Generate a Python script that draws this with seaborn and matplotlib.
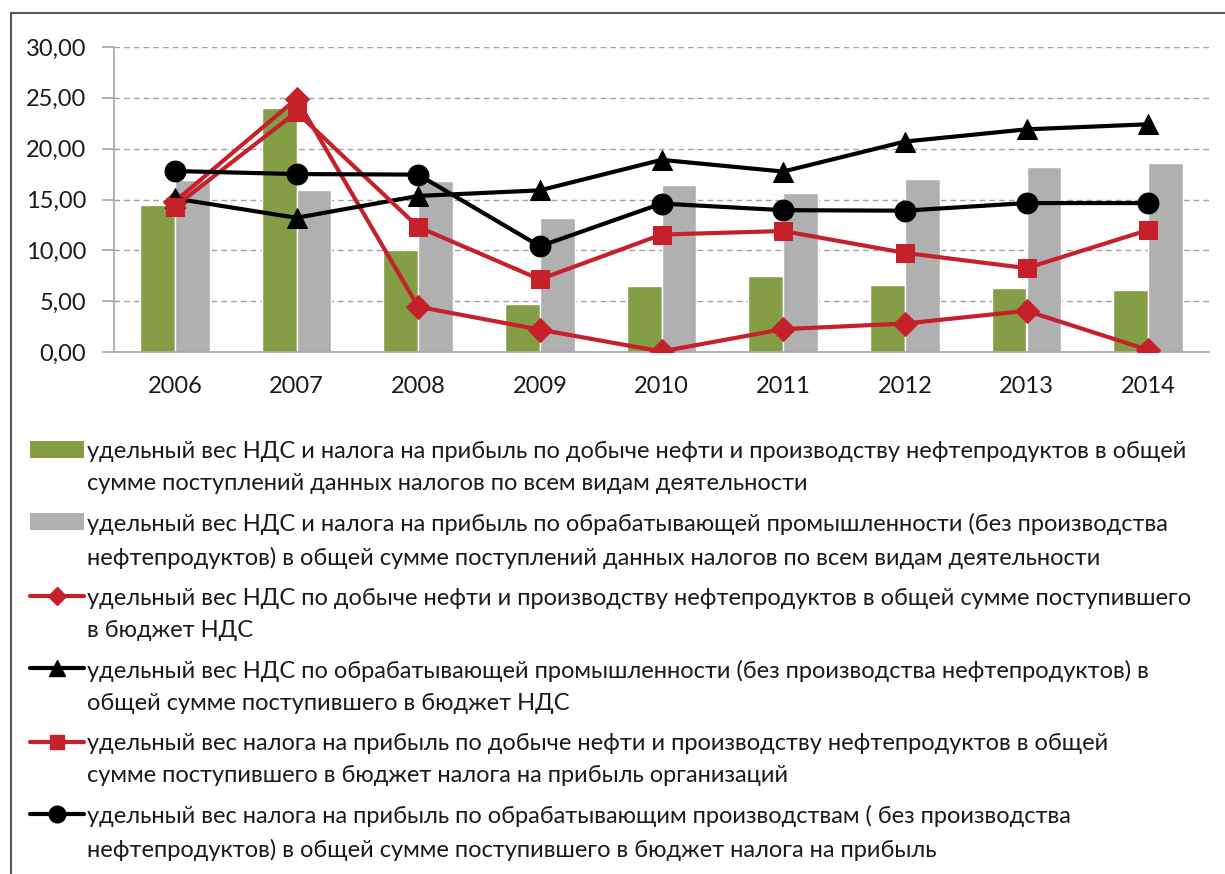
import matplotlib
matplotlib.use("Agg")
import matplotlib.pyplot as plt
import seaborn as sns
import pandas as pd
import numpy as np
from matplotlib.patches import Rectangle, Patch
from matplotlib.lines import Line2D

years = ['2006', '2007', '2008', '2009', '2010', '2011', '2012', '2013', '2014']
oil_share = [14.45, 24.0, 10.0, 4.7, 6.5, 7.5, 6.6, 6.25, 6.1]
manuf_share = [16.9, 15.95, 16.85, 13.15, 16.45, 15.65, 17.05, 18.2, 18.55]
vat_oil = [14.8, 24.9, 4.45, 2.2, 0.05, 2.25, 2.8, 4.05, 0.2]
vat_manuf = [15.1, 13.2, 15.35, 15.9, 18.9, 17.75, 20.7, 21.9, 22.4]
profit_oil = [14.3, 23.6, 12.3, 7.15, 11.55, 11.9, 9.75, 8.25, 12.0]
profit_manuf = [17.8, 17.5, 17.45, 10.4, 14.6, 13.95, 13.9, 14.65, 14.65]
y_ticks = [0, 5, 10, 15, 20, 25, 30]
y_labels = ['0,00', '5,00', '10,00', '15,00', '20,00', '25,00', '30,00']

labels = [
    'удельный вес НДС и налога на прибыль по добыче нефти и производству нефтепродуктов в общей\n'
    'сумме поступлений данных налогов по всем видам деятельности',
    'удельный вес НДС и налога на прибыль по обрабатывающей промышленности (без производства\n'
    'нефтепродуктов) в общей сумме поступлений данных налогов по всем видам деятельности',
    'удельный вес НДС по добыче нефти и производству нефтепродуктов в общей сумме поступившего\n'
    'в бюджет НДС',
    'удельный вес НДС по обрабатывающей промышленности (без производства нефтепродуктов) в\n'
    'общей сумме поступившего в бюджет НДС',
    'удельный вес налога на прибыль по добыче нефти и производству нефтепродуктов в общей\n'
    'сумме поступившего в бюджет налога на прибыль организаций',
    'удельный вес налога на прибыль по обрабатывающим производствам ( без производства\n'
    'нефтепродуктов) в общей сумме поступившего в бюджет налога на прибыль',
]

GREEN = '#839E45'
GREY = '#B0B0B0'
RED = '#C6202A'
BLACK = '#000000'
TXT = '#1a1a1a'

sns.set_style('white')
plt.rcParams['font.family'] = ['Lato', 'DejaVu Sans']

fig = plt.figure(figsize=(12.25, 8.74), dpi=100)
ax = fig.add_axes([114 / 1225, 1 - 352 / 874, (1209 - 114) / 1225, (352 - 47) / 874])

bars = pd.DataFrame({
    'year': years * 2,
    'value': oil_share + manuf_share,
    'series': ['oil'] * 9 + ['manuf'] * 9,
})
sns.barplot(data=bars, x='year', y='value', hue='series', palette=[GREEN, GREY],
            width=0.57, saturation=1, legend=False, ax=ax, zorder=2)

pos = np.arange(len(years))
line_specs = [
    (vat_oil, RED, 'D', 12),
    (vat_manuf, BLACK, '^', 14),
    (profit_oil, RED, 's', 13),
    (profit_manuf, BLACK, 'o', 15),
]
for vals, col, mk, ms in line_specs:
    sns.lineplot(x=pos, y=vals, color=col, marker=mk, markersize=ms, linewidth=3,
                 markeredgecolor=col, ax=ax, zorder=3)

ax.set_xlim(-0.5, 8.5)
ax.set_ylim(0, 30)
ax.set_yticks(y_ticks)
ax.set_yticklabels(y_labels)
ax.set_xticks(pos)
ax.set_xticklabels(years)
ax.set_xticks(np.arange(-0.5, 9.0, 1.0), minor=True)
ax.tick_params(axis='x', which='major', length=0, pad=17, labelsize=17, labelcolor=TXT)
ax.tick_params(axis='x', which='minor', length=9, width=1.2, color='#A6A6A6', direction='out')
ax.tick_params(axis='y', length=9, width=1.2, color='#A6A6A6', direction='out', pad=11,
               labelsize=17, labelcolor=TXT, left=True)
ax.set_xlabel('')
ax.set_ylabel('')
ax.grid(axis='y', linestyle=(0, (4, 3)), color='#A0A0A0', linewidth=1)
ax.set_axisbelow(True)
for s in ['top', 'right']:
    ax.spines[s].set_visible(False)
for s in ['left', 'bottom']:
    ax.spines[s].set_color('#A6A6A6')
    ax.spines[s].set_linewidth(1.2)

handles = [
    Patch(facecolor=GREEN, edgecolor='none'),
    Patch(facecolor=GREY, edgecolor='none'),
]
for vals, col, mk, ms in line_specs:
    handles.append(Line2D([], [], color=col, marker=mk, markersize=ms * 0.8, linewidth=3))
leg = fig.legend(handles, labels, loc='upper left', bbox_to_anchor=(30 / 1225, 1 - 441 / 874),
                 frameon=False, fontsize=17, handlelength=2.3, handletextpad=0.12,
                 labelspacing=0.82, borderaxespad=0, borderpad=0)
for t in leg.get_texts():
    t.set_color(TXT)
    t.set_linespacing(1.63)
# put each legend key next to the first line of its label
for col in leg._legend_handle_box.get_children():
    for row in col.get_children():
        row.align = 'top'

fig.add_artist(Rectangle((11 / 1225, -0.1), 2, 1.1 - 13 / 874, transform=fig.transFigure,
                         fill=False, edgecolor='#595959', linewidth=1.5))

fig.savefig('out.png', dpi=100)
